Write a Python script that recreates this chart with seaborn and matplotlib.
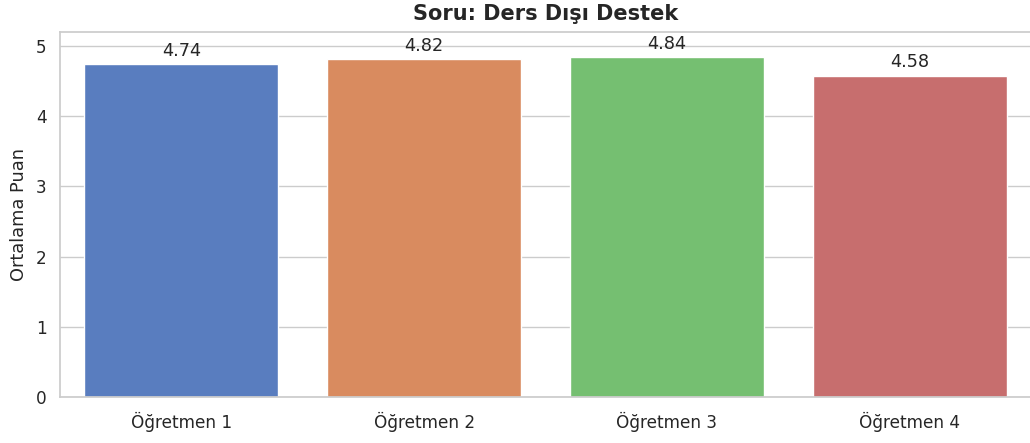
import matplotlib
matplotlib.use("Agg")
import matplotlib.pyplot as plt
import seaborn as sns
import pandas as pd

# veriler
ogretmenler = ["Öğretmen 1", "Öğretmen 2", "Öğretmen 3", "Öğretmen 4"]
puanlar = [4.74, 4.82, 4.84, 4.58]

df = pd.DataFrame({"ogretmen": ogretmenler, "puan": puanlar})

sns.set_theme(style="whitegrid")
fig = plt.figure(figsize=(10.3, 4.43), dpi=100)
# eksen sağ kenarı resmin biraz dışına taşıyor (orijinal kırpılmış)
ax = fig.add_axes([60 / 1030, 46 / 443, 971 / 1030, 365 / 443])
sns.barplot(data=df, x="ogretmen", y="puan", hue="ogretmen", palette="muted", legend=False, ax=ax)

for cont in ax.containers:
    ax.bar_label(cont, fmt="%.2f", padding=3, fontsize=12.7)

ax.set_ylim(0, 5.2)
ax.set_xlim(-0.5, 3.5)
ax.tick_params(axis="both", labelsize=12.2)
ax.tick_params(axis="x", pad=5)
ax.set_title("Soru: Ders Dışı Destek", fontweight="bold", fontsize=15, pad=9)
ax.set_xlabel("")
ax.set_ylabel("Ortalama Puan", fontsize=12.8, labelpad=6)
plt.savefig("out.png")
